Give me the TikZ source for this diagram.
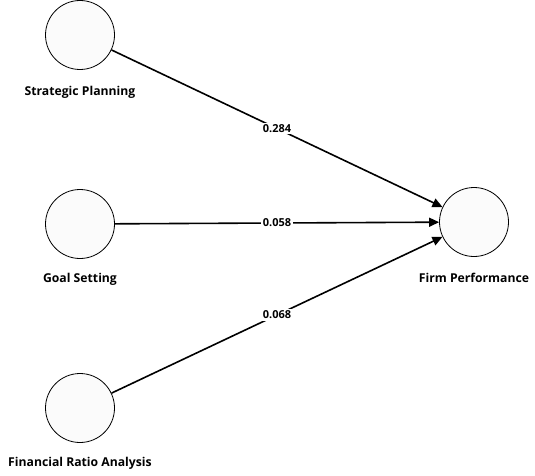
\documentclass[tikz,border=0pt]{standalone}
\usepackage{fontspec}
\setmainfont{Open Sans}
\usetikzlibrary{arrows.meta}
\begin{document}
\begin{tikzpicture}[x=1pt,y=1pt,
  latent/.style={circle,draw=black,line width=0.8pt,fill=white!98.5!black,minimum size=69pt,inner sep=0pt},
  lbl/.style={font=\bfseries\fontsize{12.2}{14}\selectfont,text=black},
  path/.style={draw=black,line width=1.6pt,-{Triangle[length=10pt,width=9pt]}},
  coef/.style={fill=white,inner sep=1.5pt,font=\bfseries\fontsize{11}{13}\selectfont}]
\useasboundingbox (0,0) rectangle (535,475);
\node[latent] (sp) at (80,440) {};
\node[latent] (gs) at (80,251) {};
\node[latent] (fra) at (80,67) {};
\node[latent] (fp) at (474,253) {};
\node[lbl] (spl) at (80,383) {Strategic Planning};
\node[lbl] (gsl) at (80,196) {Goal Setting};
\node[lbl] (fral) at (80,12) {Financial Ratio Analysis};
\node[lbl] (fpl) at (474,197) {Firm Performance};
\draw[path] (sp) -- node[coef] {0.284} (fp);
\draw[path] (gs) -- node[coef] {0.058} (fp);
\draw[path] (fra) -- node[coef] {0.068} (fp);
\end{tikzpicture}
\end{document}
